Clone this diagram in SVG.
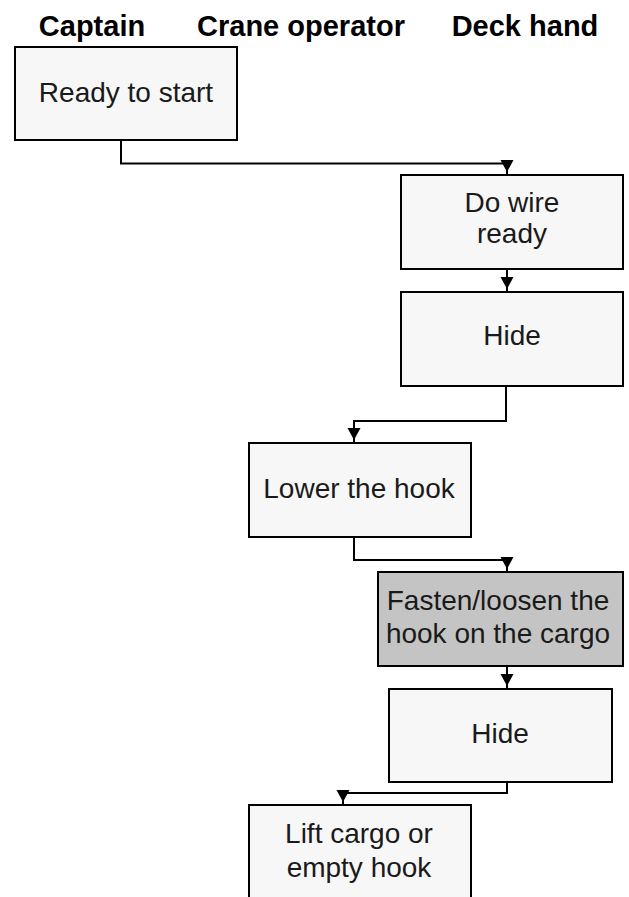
<svg xmlns="http://www.w3.org/2000/svg" width="629" height="897" viewBox="0 0 629 897">
  <style>
    .hdr { font-family: "Liberation Sans", Arial, sans-serif; font-weight: bold; font-size: 29px; fill: #000; text-anchor: middle; }
    .box { fill: #f7f7f7; stroke: #000; stroke-width: 2; }
    .box.gray { fill: #c4c4c4; }
    .lbl { font-family: "Liberation Sans", Arial, sans-serif; font-size: 28px; fill: #1a1a1a; text-anchor: middle; }
    .conn { fill: none; stroke: #000; stroke-width: 2; }
  </style>
  <defs>
    <marker id="arrow" markerUnits="userSpaceOnUse" markerWidth="18" markerHeight="16" viewBox="0 -8 18 16" refX="15" refY="0" orient="auto">
      <path d="M0,-6.5 L12,0 L0,6.5 Z" fill="#000"/>
    </marker>
  </defs>
  <rect width="629" height="897" fill="#fff"/>

  <g id="headers">
    <text class="hdr" x="92" y="36">Captain</text>
    <text class="hdr" x="301" y="36">Crane operator</text>
    <text class="hdr" x="525" y="36">Deck hand</text>
  </g>

  <g id="connectors">
    <path class="conn" d="M121,140 V163.5 H507 V175" marker-end="url(#arrow)"/>
    <path class="conn" d="M507,269 V292" marker-end="url(#arrow)"/>
    <path class="conn" d="M506,386 V421 H354 V443" marker-end="url(#arrow)"/>
    <path class="conn" d="M354,537 V560 H507 V572" marker-end="url(#arrow)"/>
    <path class="conn" d="M507,666 V689" marker-end="url(#arrow)"/>
    <path class="conn" d="M507,782 V793 H343 V805" marker-end="url(#arrow)"/>
  </g>

  <g id="ready-to-start">
    <rect class="box" x="15" y="47" width="222" height="93"/>
    <text class="lbl" x="126" y="102">Ready to start</text>
  </g>

  <g id="do-wire-ready">
    <rect class="box" x="401" y="175" width="222" height="94"/>
    <text class="lbl" x="512" y="212">Do wire</text>
    <text class="lbl" x="512" y="243">ready</text>
  </g>

  <g id="hide-1">
    <rect class="box" x="401" y="292" width="222" height="94"/>
    <text class="lbl" x="512" y="345">Hide</text>
  </g>

  <g id="lower-the-hook">
    <rect class="box" x="249" y="443" width="222" height="94"/>
    <text class="lbl" x="359" y="498">Lower the hook</text>
  </g>

  <g id="fasten-loosen">
    <rect class="box gray" x="378" y="572" width="245" height="94"/>
    <text class="lbl" x="498" y="610">Fasten/loosen the</text>
    <text class="lbl" x="498" y="643">hook on the cargo</text>
  </g>

  <g id="hide-2">
    <rect class="box" x="389" y="689" width="223" height="93"/>
    <text class="lbl" x="500" y="743">Hide</text>
  </g>

  <g id="lift-cargo">
    <rect class="box" x="249" y="805" width="222" height="110"/>
    <text class="lbl" x="359" y="843">Lift cargo or</text>
    <text class="lbl" x="359" y="877">empty hook</text>
  </g>
</svg>
